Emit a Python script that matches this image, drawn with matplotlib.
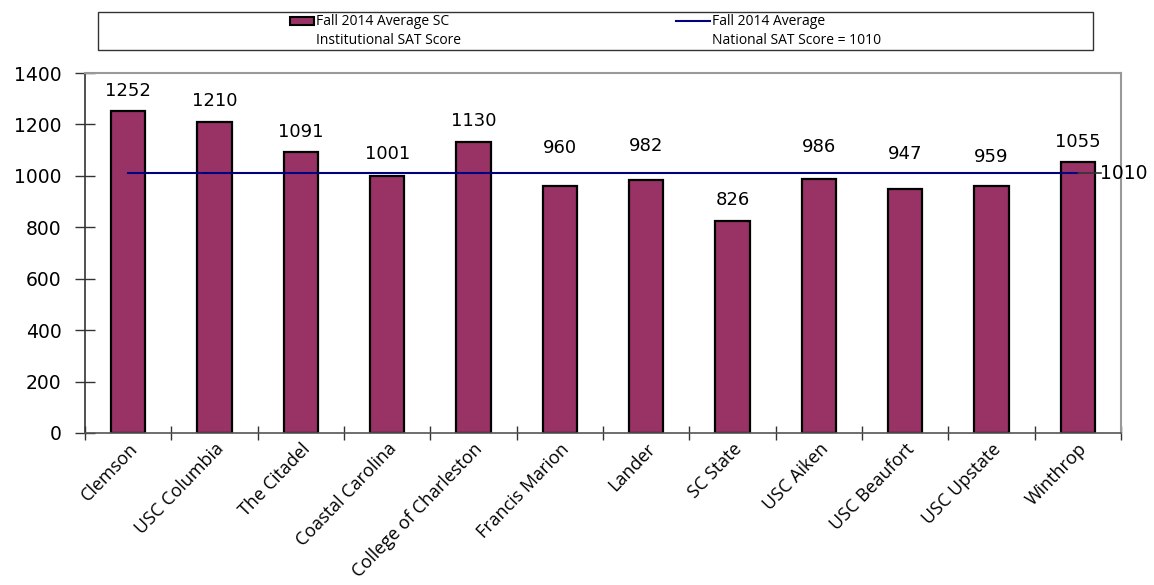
import matplotlib

matplotlib.use("Agg")
import matplotlib.pyplot as plt
from matplotlib.lines import Line2D
from matplotlib.patches import Rectangle

schools = [
    "Clemson", "USC Columbia", "The Citadel", "Coastal Carolina",
    "College of Charleston", "Francis Marion", "Lander", "SC State",
    "USC Aiken", "USC Beaufort", "USC Upstate", "Winthrop",
]
sat_scores = [1252, 1210, 1091, 1001, 1130, 960, 982, 826, 986, 947, 959, 1055]
national_avg = 1010
bar_label = "Fall 2014 Average SC\nInstitutional SAT Score"
line_label = "Fall 2014 Average\nNational SAT Score = 1010"
y_ticks = [0, 200, 400, 600, 800, 1000, 1200, 1400]

# vertical gap (px) between bar top and its value label; some were nudged up
# in the original to clear the average line
label_gap_px = [20, 21, 20, 22, 21, 38, 34, 21, 32, 35, 29, 20]

BAR_COLOR = "#993366"
LINE_COLOR = "#000080"
NUM_FONT = ["DejaVu Sans"]
CAT_FONT = ["Open Sans", "DejaVu Sans"]
LEGEND_FONT = ["Liberation Sans Narrow", "Open Sans", "DejaVu Sans"]

fig = plt.figure(figsize=(11.54, 5.85), dpi=100)
ax = fig.add_axes([85 / 1154, 1 - 433 / 585, (1121 - 85) / 1154, 360 / 585])

positions = list(range(len(schools)))
ax.bar(positions, sat_scores, width=0.4, color=BAR_COLOR, edgecolor="black",
       linewidth=1.6, zorder=2)
for x, v, gap in zip(positions, sat_scores, label_gap_px):
    ax.annotate(str(v), (x, v), xytext=(0, gap * 0.72), textcoords="offset points",
                ha="center", va="center", fontsize=13, family=NUM_FONT)

# national average line from first to last bar centre, then leader + label
ax.plot([positions[0], positions[-1]], [national_avg, national_avg],
        color=LINE_COLOR, linewidth=1.5, zorder=3)
ax.plot([positions[-1], positions[-1] + 0.27], [national_avg, national_avg],
        color="#333333", linewidth=1.2, zorder=3, clip_on=False)
ax.text(positions[-1] + 0.26, national_avg, str(national_avg), ha="left",
        va="center", fontsize=13.5, family=NUM_FONT)

ax.set_xlim(-0.5, len(schools) - 0.5)
ax.set_ylim(0, 1400)
ax.set_yticks(y_ticks)
ax.set_yticklabels([str(t) for t in y_ticks], fontsize=13.5, family=NUM_FONT)
ax.set_xticks(positions)
ax.set_xticklabels(schools, rotation=46, ha="right", rotation_mode="anchor",
                   fontsize=13, family=CAT_FONT)
ax.tick_params(axis="x", length=0, pad=5)
ax.set_xticks([p - 0.5 for p in positions] + [positions[-1] + 0.5], minor=True)
ax.tick_params(axis="x", which="minor", direction="inout", length=10,
               width=1, color="#333333")
ax.tick_params(axis="y", direction="inout", length=14, width=1, color="#333333",
               pad=10)

for side in ("top", "right"):
    ax.spines[side].set_color("#999999")
    ax.spines[side].set_linewidth(1.5)
ax.spines["left"].set_color("#333333")
ax.spines["bottom"].set_color("#555555")
ax.spines["left"].set_linewidth(1.2)
ax.spines["bottom"].set_linewidth(1.2)

# legend box drawn in figure pixel space
W, H = 1154, 585


def fx(px):
    return px / W


def fy(py):
    return 1 - py / H


fig.patches.append(Rectangle((fx(98), fy(50)), fx(1093) - fx(98), fy(12) - fy(50),
                             transform=fig.transFigure, facecolor="white",
                             edgecolor="#333333", linewidth=1))
fig.patches.append(Rectangle((fx(290), fy(25)), fx(314) - fx(290), fy(17) - fy(25),
                             transform=fig.transFigure, facecolor=BAR_COLOR,
                             edgecolor="black", linewidth=1.5))
fig.add_artist(Line2D([fx(676), fx(710)], [fy(21), fy(21)],
                      transform=fig.transFigure, color=LINE_COLOR, linewidth=1.5))
fig.text(fx(316), fy(14), bar_label, ha="left", va="top", fontsize=10,
         family=LEGEND_FONT, linespacing=1.35)
fig.text(fx(712), fy(14), line_label, ha="left", va="top", fontsize=10,
         family=LEGEND_FONT, linespacing=1.35)

fig.savefig("out.png", dpi=100)
plt.close(fig)
